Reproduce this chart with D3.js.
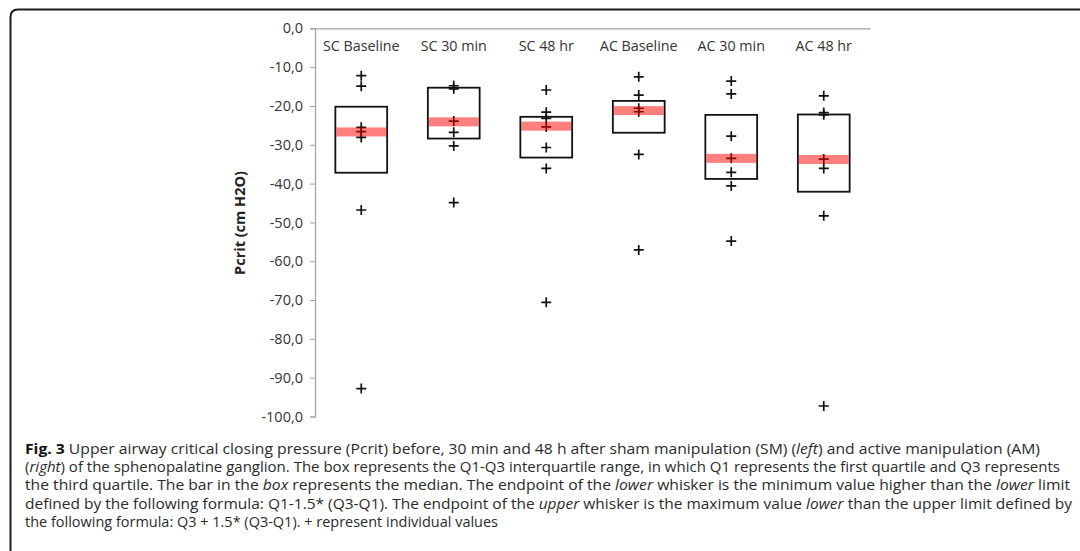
<!DOCTYPE html>
<html><head><meta charset="utf-8">
<script src="https://cdn.jsdelivr.net/npm/d3@7"></script>
<style>html,body{margin:0;padding:0;background:#fff;overflow:hidden}</style>
</head><body>
<svg id="c" width="1080" height="551"></svg>
<script>
const categories = ["SC Baseline","SC 30 min","SC 48 hr","AC Baseline","AC 30 min","AC 48 hr"];
const q3Values = [-20.2,-15.3,-22.8,-18.7,-22.3,-22.2];
const q1Values = [-37.2,-28.4,-33.3,-26.9,-38.8,-42.1];
const medianValues = [-26.7,-24.1,-25.2,-21.2,-33.5,-33.8];
const pointsSCBaseline = [-12.2,-14.9,-25.5,-26.6,-28.1,-46.8,-92.8];
const pointsSC30 = [-14.8,-15.6,-23.9,-26.8,-30.3,-44.9];
const pointsSC48 = [-15.9,-21.6,-23.2,-25.4,-30.7,-36.1,-70.6];
const pointsACBaseline = [-12.5,-17.2,-20.6,-21.5,-32.5,-57.1];
const pointsAC30 = [-13.6,-16.9,-27.8,-33.5,-37.1,-40.6,-54.8];
const pointsAC48 = [-17.4,-21.7,-22.3,-33.7,-36.1,-48.3,-97.3];
const pointSets = [pointsSCBaseline,pointsSC30,pointsSC48,pointsACBaseline,pointsAC30,pointsAC48];
const yTicks = [0,-10,-20,-30,-40,-50,-60,-70,-80,-90,-100];
const yLabel = "Pcrit (cm H2O)";

const svg = d3.select("#c");
const font = "'Open Sans', sans-serif";

// frame
svg.append("path")
  .attr("d","M10.5,560 L10.5,17 Q10.5,9.5 18,9.5 L1090,9.5")
  .attr("fill","none").attr("stroke","#1c1c1c").attr("stroke-width",2);

const x = d3.scaleBand().domain(categories).range([315,870]).padding(0);
const y = d3.scaleLinear().domain([-100,0]).range([416.5,28.3]);
const boxW = x.bandwidth()*0.56;

// y axis
const yAxis = d3.axisLeft(y).tickValues(yTicks).tickSize(5).tickPadding(7)
  .tickFormat(d => d3.format(".1f")(d).replace(".",",").replace("−","-"));
const ga = svg.append("g").attr("transform","translate(315,0)").call(yAxis);
ga.select(".domain").attr("stroke","#a0a0a0").attr("stroke-width",1.2);
ga.selectAll(".tick line").attr("stroke","#a0a0a0");
ga.selectAll(".tick text").attr("font-family",font).attr("font-size",14.5).attr("fill","#333");

// x axis at top (value 0)
const xAxis = d3.axisTop(x).tickSize(0).tickFormat("");
const gx = svg.append("g").attr("transform",`translate(0,${y(0)})`).call(xAxis);
gx.select(".domain").attr("stroke","#a0a0a0").attr("stroke-width",1.2);

// category labels
svg.selectAll(".cat").data(categories).enter().append("text")
  .attr("x",d=>x(d)+x.bandwidth()/2).attr("y",50.5)
  .attr("text-anchor","middle").attr("font-family",font).attr("font-size",14.3)
  .attr("fill","#333").text(d=>d);

// y label
svg.append("text").attr("transform",`translate(245,223) rotate(-90)`)
  .attr("text-anchor","middle").attr("font-family",font).attr("font-weight","bold")
  .attr("font-size",14.5).attr("fill","#222").text(yLabel);

// boxes
svg.selectAll(".box").data(categories).enter().append("rect")
  .attr("x",d=>x(d)+x.bandwidth()/2-boxW/2)
  .attr("y",(d,i)=>y(q3Values[i]))
  .attr("width",boxW)
  .attr("height",(d,i)=>y(q1Values[i])-y(q3Values[i]))
  .attr("fill","#fff").attr("stroke","#111").attr("stroke-width",1.8);

// points as plus markers
const pts = [];
pointSets.forEach((arr,i)=>arr.forEach(v=>pts.push({c:categories[i],v})));
const ps = 5;
svg.selectAll(".pt").data(pts).enter().append("path")
  .attr("d",d=>{const cx=x(d.c)+x.bandwidth()/2, cy=y(d.v);
    return `M${cx-ps},${cy}H${cx+ps}M${cx},${cy-ps}V${cy+ps}`;})
  .attr("stroke","#111").attr("stroke-width",1.7).attr("fill","none");

// median bars
svg.selectAll(".med").data(categories).enter().append("rect")
  .attr("x",d=>x(d)+x.bandwidth()/2-boxW/2+1)
  .attr("y",(d,i)=>y(medianValues[i])-4.5)
  .attr("width",boxW-2).attr("height",9)
  .attr("fill","rgba(255,0,0,0.5)");

// caption
const lines = [
  [["Fig. 3","b"],[" Upper airway critical closing pressure (Pcrit) before, 30 min and 48 h after sham manipulation (SM) (",""],["left","i"],[") and active manipulation (AM)",""]],
  [["(",""],["right","i"],[") of the sphenopalatine ganglion. The box represents the Q1-Q3 interquartile range, in which Q1 represents the first quartile and Q3 represents",""]],
  [["the third quartile. The bar in the ",""],["box","i"],[" represents the median. The endpoint of the ",""],["lower","i"],[" whisker is the minimum value higher than the ",""],["lower","i"],[" limit",""]],
  [["defined by the following formula: Q1-1.5* (Q3-Q1). The endpoint of the ",""],["upper","i"],[" whisker is the maximum value ",""],["lower","i"],[" than the upper limit defined by",""]],
  [["the following formula: Q3 + 1.5* (Q3-Q1). + represent individual values",""]]
];
const targetW = [1015,1035,1045,1047,473];
lines.forEach((ln,i)=>{
  const t = svg.append("text").attr("x",25).attr("y",453.5+i*18.4)
    .attr("font-family",font).attr("font-size",14).attr("fill","#2a2a2a")
    .attr("xml:space","preserve");
  ln.forEach(([s,st])=>{
    const sp = t.append("tspan").text(s);
    if(st==="b") sp.attr("font-weight","bold").attr("fill","#111");
    if(st==="i") sp.attr("font-style","italic");
  });
  t.attr("textLength",targetW[i]).attr("lengthAdjust","spacingAndGlyphs");
});
</script>
</body></html>
